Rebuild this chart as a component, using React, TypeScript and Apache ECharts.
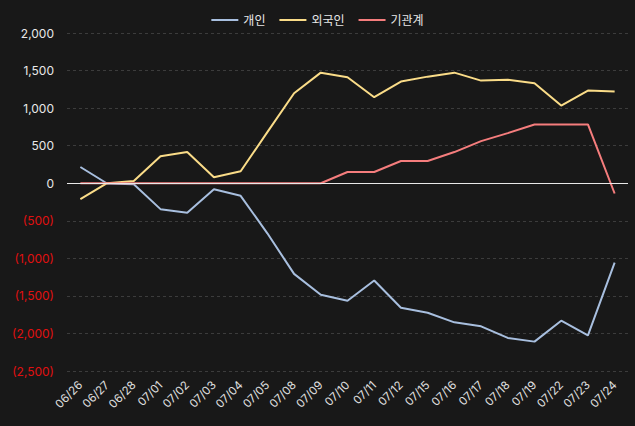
import React, { useEffect, useRef } from "react";
import * as echarts from "echarts";

const categories = ["06/26","06/27","06/28","07/01","07/02","07/03","07/04","07/05","07/08","07/09","07/10","07/11","07/12","07/15","07/16","07/17","07/18","07/19","07/22","07/23","07/24"];
const individual = [216, -4, -15, -345, -394, -80, -168, -667, -1207, -1485, -1565, -1295, -1658, -1724, -1852, -1905, -2060, -2109, -1830, -2025, -1057];
const foreign = [-212, 0, 30, 358, 415, 80, 159, 680, 1198, 1472, 1410, 1145, 1353, 1419, 1472, 1366, 1379, 1330, 1034, 1233, 1220];
const institution = [0, 0, 0, 0, 0, 0, 0, 0, 0, 0, 150, 150, 296, 296, 415, 561, 667, 782, 782, 782, -137];
const seriesNames = ["개인", "외국인", "기관계"];
const yTicks = { min: -2500, max: 2000, interval: 500 };

const FONT = "Inter, 'Noto Sans CJK KR', sans-serif";

export default function App() {
  const ref = useRef<HTMLDivElement>(null);
  useEffect(() => {
    if (!ref.current) return;
    const chart = echarts.init(ref.current, null, { renderer: "svg" });
    chart.setOption({
      animation: false,
      backgroundColor: "#181818",
      textStyle: { fontFamily: FONT },
      legend: {
        top: 9,
        left: "center",
        icon: "rect",
        itemWidth: 27,
        itemHeight: 2,
        itemGap: 14,
        textStyle: { color: "#e8e8e8", fontSize: 12, fontFamily: FONT },
        data: seriesNames,
      },
      grid: { left: 67, right: 7, top: 33, bottom: 55 },
      xAxis: {
        type: "category",
        data: categories,
        boundaryGap: true,
        axisLine: { show: false },
        axisTick: { show: false },
        axisLabel: { color: "#e0e0e0", fontSize: 11.5, rotate: 45, margin: 12, interval: 0, fontFamily: FONT },
        splitLine: { show: false },
      },
      yAxis: {
        type: "value",
        min: yTicks.min,
        max: yTicks.max,
        interval: yTicks.interval,
        axisLine: { show: false },
        axisTick: { show: false },
        axisLabel: {
          margin: 13,
          fontSize: 12,
          fontFamily: FONT,
          formatter: (v: number) => {
            const s = Math.abs(v).toLocaleString("en-US");
            return v < 0 ? "{neg|(" + s + ")}" : "{pos|" + s + "}";
          },
          rich: {
            pos: { color: "#e8e8e8", fontSize: 12, fontFamily: FONT },
            neg: { color: "#e01010", fontSize: 12, fontFamily: FONT },
          },
        },
        splitLine: { lineStyle: { color: "#3c3c3c", type: [3, 3], width: 1 } },
      },
      series: [
        {
          name: seriesNames[0],
          type: "line",
          data: individual,
          symbol: "none",
          lineStyle: { width: 2, color: "#a8bfdf" },
          itemStyle: { color: "#a8bfdf" },
          markLine: {
            silent: true,
            symbol: "none",
            label: { show: false },
            lineStyle: { color: "#e8e8e8", type: "solid", width: 1 },
            data: [{ yAxis: 0 }],
          },
        },
        {
          name: seriesNames[1],
          type: "line",
          data: foreign,
          symbol: "none",
          lineStyle: { width: 2, color: "#fadc88" },
          itemStyle: { color: "#fadc88" },
        },
        {
          name: seriesNames[2],
          type: "line",
          data: institution,
          symbol: "none",
          lineStyle: { width: 2, color: "#f57d7d" },
          itemStyle: { color: "#f57d7d" },
        },
      ],
    });
    return () => chart.dispose();
  }, []);
  return <div ref={ref} style={{ width: 635, height: 426, position: "absolute", left: 0, top: 0 }} />;
}
